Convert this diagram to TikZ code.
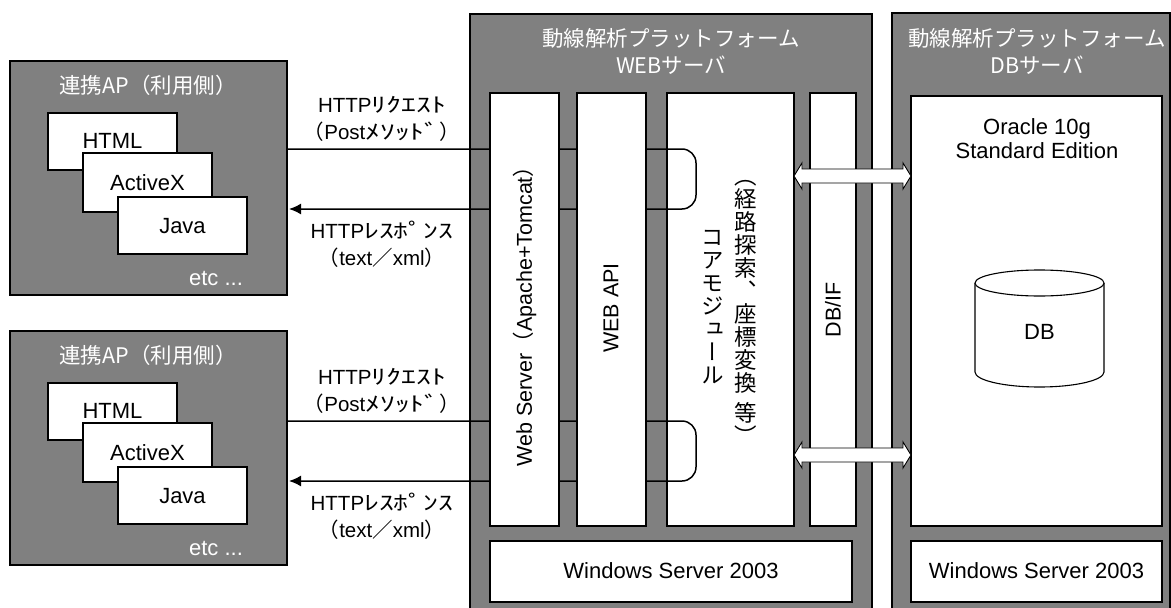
\documentclass[tikz,border=0pt]{standalone}
\usepackage{fontspec}
\setmainfont{Liberation Sans}
\newfontfamily\jp{Noto Sans CJK JP}
\newfontfamily\jpv[RawFeature=+vert]{Noto Sans CJK JP}
\newfontfamily\hk[FakeStretch=1.45]{Noto Sans CJK JP}
\usetikzlibrary{arrows.meta,calc}
\definecolor{srvgray}{RGB}{128,128,128}
\newcommand\dbarrow[2]{%
  \draw[dbl] (#1) -- ++(8,-13) -- ++(0,6) -- ($(#2)+(-8,-7)$) -- ++(0,-6) -- (#2)
    -- ++(-8,13) -- ++(0,-6) -- ($(#1)+(8,7)$) -- ++(0,6) -- cycle;}
\begin{document}
\begin{tikzpicture}[x=1pt,y=-1pt,
  every node/.style={inner sep=0pt, outer sep=0pt},
  gbox/.style={draw=black, line width=1.1pt, fill=srvgray},
  wbox/.style={draw=black, line width=1.1pt, fill=white},
  sz/.style 2 args={anchor=north west, minimum width=#1pt, minimum height=#2pt},
  ttl/.style={text=white, font=\jp\fontsize{21.5}{27}\selectfont, align=center},
  lbl/.style={font=\fontsize{20.5}{27}\selectfont, align=center},
  big/.style={font=\fontsize{22}{24}\selectfont, align=center},
  rot/.style={rotate=90, font=\fontsize{21.5}{24}\selectfont},
  vtxt/.style={font=\jpv\fontsize{22.5}{23}\selectfont, align=center},
  conn/.style={line width=1.5pt, rounded corners=14pt},
  dbl/.style={draw=black, line width=0.9pt, fill=white, line join=miter},
]
\useasboundingbox (0,0) rectangle (1171,608);
\clip (0,0) rectangle (1171,608);

% ---------- client applications ----------
\foreach \i/\d/\a/\b in {1/0/149/209, 2/270/421/481}{
  \node[gbox, sz={277}{234}] (ap\i) at (10,{61+\d}) {};
  \node[ttl] (apt\i) at (148,{85+\d}) {連携AP（利用側）};
  \node[wbox, sz={129}{57}] (html\i) at (48,{113+\d}) {};
  \node[big] at (112.5,{141+\d}) {HTML};
  \node[wbox, sz={129}{59}] (actx\i) at (83,{153+\d}) {};
  \node[big] at (147.5,{183+\d}) {ActiveX};
  \node[wbox, sz={129}{57}] (java\i) at (118,{197+\d}) {};
  \node[big] at (182.5,{226+\d}) {Java};
  \node[big, text=white] (etc\i) at (216,{278+\d}) {etc ...};
  \node[lbl] (req\i) at (382,{\a-30.5}) {HTTP{\hk ﾘｸｴｽﾄ}\\{\jp （}Post{\hk ﾒｿｯﾄﾞ}{\jp ）}};
  \node[lbl] (res\i) at (382,{\b+35.5}) {HTTP{\hk ﾚｽﾎﾟﾝｽ}\\{\jp （}text{\jp ／}xml{\jp ）}};
}

% ---------- WEB server ----------
\node[gbox, sz={402}{601}] (web) at (470,14) {};
\node[ttl] (webt) at (671,51.5) {動線解析プラットフォーム\\WEBサーバ};
\node[wbox, sz={127}{433}] (core) at (667,93) {};
\node[wbox, sz={46}{433}] (dbif) at (810,93) {};

% request / response loops
\foreach \i/\a/\b in {1/149/209, 2/421/481}{
  \coordinate (qs\i) at (287,\a);
  \coordinate (qt\i) at (696,\a);
  \coordinate (qb\i) at (696,\b);
  \coordinate (qe\i) at (289,\b);
  \draw[conn, -{Latex[length=12pt,width=11pt]}] (qs\i) -- (qt\i) -- (qb\i) -- (qe\i);
}

\node[wbox, sz={69}{433}] (ws) at (490,93) {};
\node[wbox, sz={69}{433}] (api) at (577,93) {};
\node[rot] (wst) at (525,311) {Web Server{\jp （}Apache+Tomcat{\jp ）}};
\node[rot] (apit) at (611,308) {WEB API};
\node[rot] (dbift) at (833,310) {DB/IF};
\node[vtxt] (coreA) at (746,312) {（\\経\\路\\探\\索\\、\\座\\標\\変\\換\\[7pt]等\\）};
\node[vtxt] (coreB) at (713,307) {コ\\ア\\モ\\ジ\\ュ\\ー\\ル};
\node[wbox, sz={362}{61}] (win1) at (490,541) {};
\node[big] (win1t) at (671,571) {Windows Server 2003};

% ---------- DB server ----------
\node[gbox, sz={278}{602}] (dbs) at (892,13) {};
\node[ttl] (dbst) at (1037,51.5) {動線解析プラットフォーム\\DBサーバ};
\node[wbox, sz={251}{430}] (ora) at (911,96) {};
\node[big] (orat) at (1037,138.5) {Oracle 10g\\Standard Edition};
\draw[line width=1.1pt, fill=white] (975,283) -- (975,372)
  arc[start angle=180, end angle=360, x radius=64.5pt, y radius=15pt] -- (1104,283);
\draw[line width=1.1pt, fill=white] (1039.5,283) ellipse [x radius=64.5pt, y radius=13pt];
\node[big] (dbt) at (1039.5,332) {DB};
\node[wbox, sz={251}{61}] (win2) at (911,541) {};
\node[big] (win2t) at (1036.5,571) {Windows Server 2003};

% ---------- DB/IF <-> DB arrows ----------
\coordinate (d1l) at (core.east |- 0,176);
\coordinate (d1r) at (ora.west |- 0,176);
\coordinate (d2l) at (core.east |- 0,455);
\coordinate (d2r) at (ora.west |- 0,455);
\dbarrow{d1l}{d1r}
\dbarrow{d2l}{d2r}
\end{tikzpicture}
\end{document}
